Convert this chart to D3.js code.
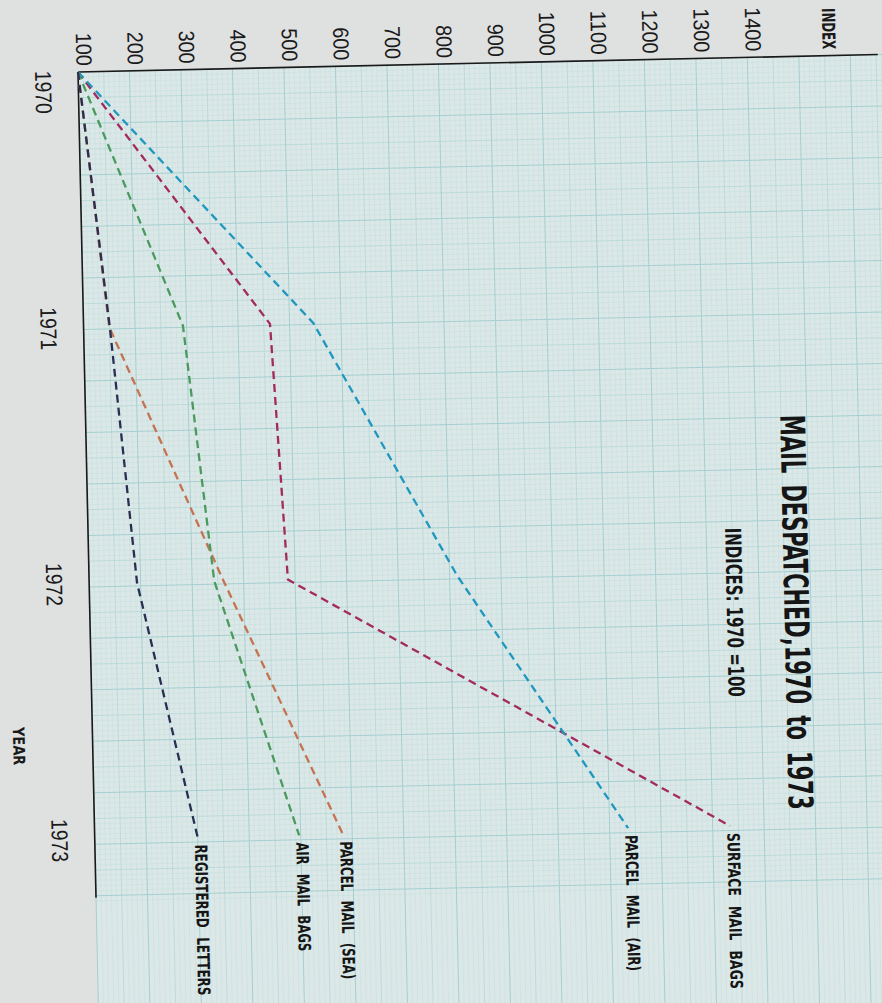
<!DOCTYPE html>
<html>
<head>
<meta charset="utf-8">
<script src="https://cdn.jsdelivr.net/npm/d3@7/dist/d3.min.js"></script>
<style>
  html, body { margin: 0; padding: 0; background: #dfe1e1; }
  svg { display: block; }
</style>
</head>
<body>
<svg id="chart" width="882" height="1003"></svg>
<script>
// ---- data ----
const years = [1970, 1971, 1972, 1973];
const surfaceMailBags   = [100, 462, 486, 1334];
const parcelMailAir     = [100, 546, 815, 1136];
const parcelMailSea     = [100, 150, 361, 582];
const airMailBags       = [100, 293, 343, 497];
const registeredLetters = [100, 151, 193, 300];
const seriesNames  = ["SURFACE MAIL BAGS", "PARCEL MAIL (AIR)", "PARCEL MAIL (SEA)", "AIR MAIL BAGS", "REGISTERED LETTERS"];
const seriesColors = ["#a32a5c", "#1f97bf", "#c47250", "#4a9a5e", "#2a2e52"];
const indexTicks = [100, 200, 300, 400, 500, 600, 700, 800, 900, 1000, 1100, 1200, 1300, 1400];
const yearTicks = ["1970", "1971", "1972", "1973"];
const titleText = "MAIL DESPATCHED,1970 to 1973";
const subtitleText = "INDICES: 1970 =100";

const seriesValues = [surfaceMailBags, parcelMailAir, parcelMailSea, airMailBags, registeredLetters];
const labelLengths = [156, 136, 138, 109, 151];

const svg = d3.select("#chart");
svg.append("rect").attr("width", 882).attr("height", 1003).attr("fill", "#dfe1e1");

// whole sheet is rotated 90° (index axis along the top), photographed slightly askew
const g = svg.append("g").attr("transform", "translate(78,72) rotate(-1.25)");

const x = d3.scaleLinear().domain([100, 1400]).range([0, 669.5]);   // index -> across
const y = d3.scaleLinear().domain([1970, 1973]).range([0, 768]);    // year  -> down

const FONT = "'Liberation Sans Narrow','Arial Narrow','DejaVu Sans Condensed','Liberation Sans',sans-serif";
const FONTR = "'Liberation Sans','Arial','DejaVu Sans',sans-serif";

// squeeze/stretch a rotated text to a given length along its reading direction
function fit(sel, target) {
  sel.each(function (d, i) {
    const t = typeof target === "function" ? target(d, i) : target;
    const w = this.getComputedTextLength();
    if (w > 0) {
      const tr = this.getAttribute("transform") || "";
      this.setAttribute("transform", tr + ` scale(${(t / w).toFixed(4)},1)`);
    }
  });
  return sel;
}

// ---- graph paper ----
const paperW = 830, paperH = 960;
g.append("rect").attr("x", 0).attr("y", 0).attr("width", paperW).attr("height", paperH).attr("fill", "#dbe8e7");
const gridVals = d3.range(100, 1720, 10);
const lvl = v => ((v - 100) % 100 === 0) ? 2 : ((v - 100) % 50 === 0 ? 1 : 0);
const gStroke = ["#c9e0df", "#b6d7d7", "#a5cfd0"];
const gWidth = [0.6, 0.8, 1.0];
[0, 1, 2].forEach(level => {
  const vals = gridVals.filter(v => lvl(v) === level);
  g.append("g").selectAll("line").data(vals.filter(v => x(v) <= paperW)).join("line")
    .attr("x1", d => x(d)).attr("x2", d => x(d)).attr("y1", 0).attr("y2", paperH)
    .attr("stroke", gStroke[level]).attr("stroke-width", gWidth[level]);
  g.append("g").selectAll("line").data(vals.filter(v => x(v) <= paperH)).join("line")
    .attr("y1", d => x(d)).attr("y2", d => x(d)).attr("x1", 0).attr("x2", paperW)
    .attr("stroke", gStroke[level]).attr("stroke-width", gWidth[level]);
});

// ---- axes ----
g.append("line").attr("x1", 0).attr("y1", 0).attr("x2", 800).attr("y2", 0)
  .attr("stroke", "#1a1a1a").attr("stroke-width", 1.6);
g.append("line").attr("x1", 0).attr("y1", 0).attr("x2", 0).attr("y2", 826)
  .attr("stroke", "#1a1a1a").attr("stroke-width", 1.6);

// index tick labels (rotated 90°)
fit(g.append("g").selectAll("text").data(indexTicks).join("text")
  .attr("transform", d => `translate(${x(d) - 1.5},-6) rotate(90)`)
  .attr("text-anchor", "end")
  .attr("font-family", FONTR).attr("font-size", 22).attr("fill", "#1a1a1a")
  .text(d => d), d => String(d).length * 11);
fit(g.append("text")
  .attr("transform", `translate(745,-6.5) rotate(90)`)
  .attr("text-anchor", "end")
  .attr("font-family", FONT).attr("font-weight", "bold").attr("font-size", 18).attr("fill", "#1a1a1a")
  .text("INDEX"), 41);

// year tick labels
fit(g.append("g").selectAll("text").data(yearTicks).join("text")
  .attr("transform", (d, i) => `translate(-43,${i === 0 ? -2 : y(+d)}) rotate(90)`)
  .attr("text-anchor", (d, i) => i === 0 ? "start" : "middle")
  .attr("font-family", FONTR).attr("font-size", 23).attr("fill", "#1a1a1a")
  .text(d => d), 43);
fit(g.append("text")
  .attr("transform", `translate(-79.5,672.7) rotate(90)`)
  .attr("text-anchor", "middle")
  .attr("font-family", FONT).attr("font-weight", "bold").attr("font-size", 16).attr("fill", "#1a1a1a")
  .text("YEAR"), 38);

// ---- title ----
fit(g.append("text")
  .attr("transform", `translate(694.5,555.7) rotate(90)`)
  .attr("text-anchor", "middle")
  .attr("font-family", FONT).attr("font-weight", "bold").attr("font-size", 34).attr("fill", "#151515")
  .attr("word-spacing", 6)
  .text(titleText), 395);
fit(g.append("text")
  .attr("transform", `translate(637,554.5) rotate(90)`)
  .attr("text-anchor", "middle")
  .attr("font-family", FONT).attr("font-weight", "bold").attr("font-size", 22).attr("fill", "#151515")
  .text(subtitleText), 169);

// ---- series ----
const line = d3.line().x(d => x(d.v)).y(d => y(d.yr));
seriesValues.forEach((vals, i) => {
  const pts = vals.map((v, j) => ({ v, yr: years[j] }));
  g.append("path").datum(pts)
    .attr("d", line)
    .attr("fill", "none")
    .attr("stroke", seriesColors[i])
    .attr("stroke-width", 2.3)
    .attr("stroke-dasharray", "8,5");
  const last = pts[pts.length - 1];
  fit(g.append("text")
    .attr("transform", `translate(${x(last.v) - 3},${y(last.yr) + 7}) rotate(90)`)
    .attr("text-anchor", "start")
    .attr("font-family", FONT).attr("font-weight", "bold").attr("font-size", 17).attr("fill", "#151515")
    .attr("word-spacing", 7)
    .text(seriesNames[i]), labelLengths[i]);
});
</script>
</body>
</html>
